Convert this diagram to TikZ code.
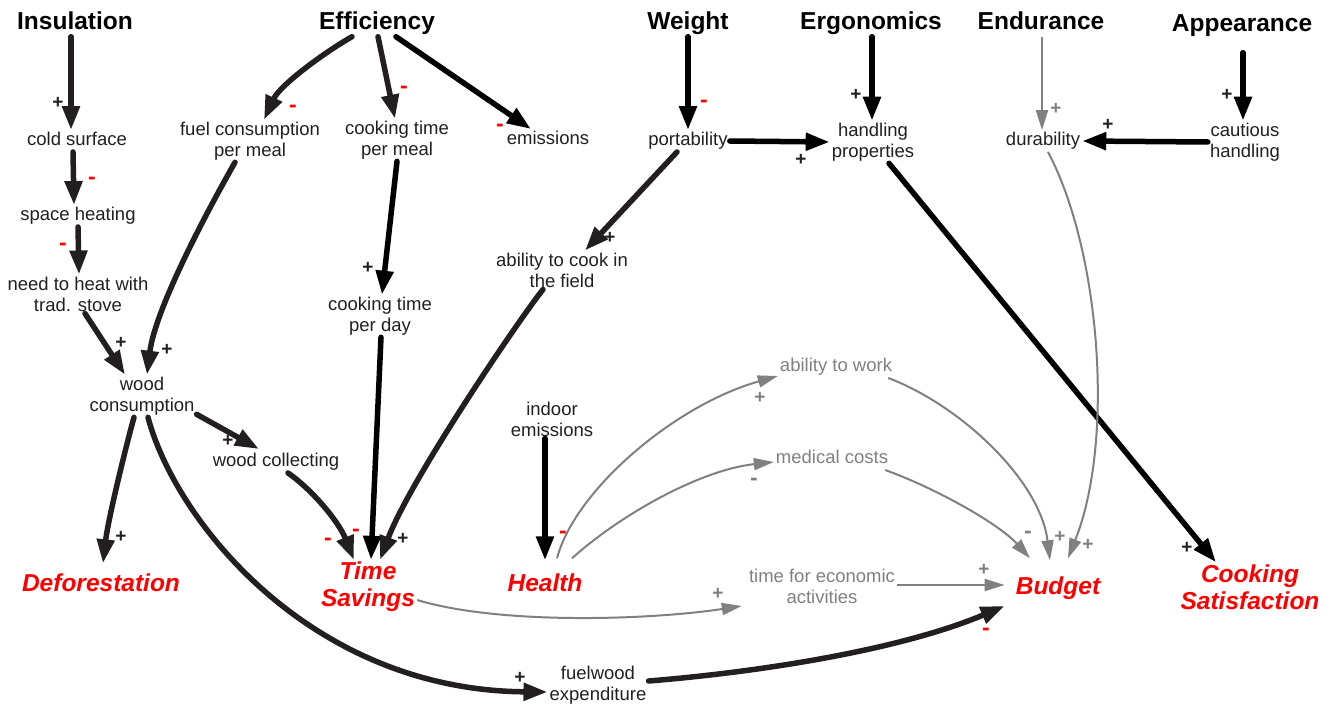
\documentclass[tikz,border=0pt]{standalone}
\usepackage{fontspec}
\setmainfont{Liberation Sans}
\usetikzlibrary{arrows.meta}
\definecolor{dk}{RGB}{35,31,32}
\definecolor{gr}{RGB}{128,128,128}
\definecolor{rd}{RGB}{255,0,0}
\begin{document}
\begin{tikzpicture}[x=1pt,y=-1pt,
 lab/.style={font=\fontsize{18.5}{21}\selectfont, align=center, inner sep=2pt, text=dk},
 one/.style={text height=13.5pt, text depth=4pt},
 glab/.style={lab, text=gr},
 head/.style={font=\fontsize{24.5}{28}\selectfont\bfseries, inner sep=2pt, text=black, text height=18pt, text depth=5pt},
 goal/.style={font=\fontsize{24.5}{27}\selectfont\bfseries\itshape, align=center, inner sep=2pt, text=rd},
 goal1/.style={goal, text height=18pt, text depth=5pt},
 hv/.style={draw=dk, line width=5.5pt, line cap=round, -{Triangle[length=24pt,width=17pt]}},
 hvk/.style={hv, draw=black},
 lite/.style={draw=gr, line width=2pt, -{Triangle[length=20pt,width=12pt]}},
 pl/.style={inner sep=0pt, font=\fontsize{19}{19}\selectfont\bfseries, text=dk},
 mi/.style={inner sep=0pt, font=\fontsize{23}{23}\selectfont\bfseries, text=rd},
]
\path[use as bounding box] (0,0) rectangle (1327,706);

% headings
\node[head] (ins) at (75,23) {Insulation};
\node[head] (eff) at (377,23) {Efficiency};
\node[head] (wt) at (688,23) {Weight};
\node[head] (ergo) at (871,23) {Ergonomics};
\node[head] (endu) at (1041,23) {Endurance};
\node[head] (app) at (1242,25) {Appearance};

% labels
\node[lab,one] (cold) at (77,141) {cold surface};
\node[lab] (fuel) at (250,141) {fuel consumption\\per meal};
\node[lab] (ctpm) at (397,140) {cooking time\\per meal};
\node[lab,one] (emis) at (548,140) {emissions};
\node[lab,one] (port) at (688,141) {portability};
\node[lab] (hand) at (873,142) {handling\\properties};
\node[lab,one] (dur) at (1043,141) {durability};
\node[lab] (caut) at (1245,142) {cautious\\handling};
\node[lab,one] (space) at (78,216) {space heating};
\node[lab] (need) at (78,294) {need to heat with\\trad. stove};
\node[lab] (cook) at (562,270) {ability to cook in\\the field};
\node[lab] (ctpd) at (380,316) {cooking time\\per day};
\node[lab] (wood) at (142,396) {wood\\consumption};
\node[lab,one] (coll) at (276,462) {wood collecting};
\node[lab] (ind) at (552,419) {indoor\\emissions};
\node[glab,one] (abw) at (836,367) {ability to work};
\node[glab,one] (med) at (832,459) {medical costs};
\node[glab] (te) at (822,586) {time for economic\\activities};
\node[lab] (fw) at (598,685) {fuelwood\\expenditure};

% goals
\node[goal1] (def) at (101,585) {Deforestation};
\node[goal] (ts) at (368,587) {Time\\Savings};
\node[goal1] (hea) at (545,585) {Health};
\node[goal1] (bud) at (1058,588) {Budget};
\node[goal] (cs) at (1250,587) {Cooking\\Satisfaction};

% connectors
\draw[hv] ([xshift=-4pt]ins.south) -- ([xshift=-6pt]cold.north);
\draw[hv] ([xshift=-4pt]cold.south) -- ([xshift=-4pt]space.north);
\draw[hv] (space.south) -- ([xshift=1pt]need.north);
\draw[hv] ([xshift=7pt]need.south) -- ([xshift=-17pt]wood.north);
\draw[hv] ([xshift=-15pt]fuel.south) .. controls (205,215) and (155,310) .. ([xshift=5pt]wood.north);
\draw[hv] ([xshift=-25pt]eff.south) .. controls (325,52) and (280,85) .. ([xshift=14pt]fuel.north);
\draw[hv] ([xshift=1pt]eff.south) -- ([xshift=-2pt]ctpm.north);
\draw[hvk] ([xshift=19pt]eff.south) -- ([xshift=-17pt]emis.north);
\draw[hvk] (ctpm.south) -- ([xshift=2pt]ctpd.north);
\draw[hvk] ([xshift=1pt]ctpd.south) -- ([xshift=3pt]ts.north);
\draw[hv] ([yshift=3pt]wood.south east) -- ([xshift=-17pt,yshift=2pt]coll.north);
\draw[hv] ([xshift=12pt]coll.south) .. controls (310,488) and (338,520) .. ([xshift=-14pt]ts.north);
\draw[hv] ([xshift=-19pt]cook.south) .. controls (520,318) and (410,480) .. ([xshift=12pt]ts.north);
\draw[hv] ([xshift=-8pt]wood.south) .. controls (125,450) and (108,520) .. ([xshift=2pt,yshift=8pt]def.north);
\draw[hv] ([xshift=6pt]wood.south) .. controls (175,520) and (310,690) .. ([yshift=-7pt]fw.west);
\draw[hv] ([yshift=4pt]fw.east) .. controls (760,672) and (900,650) .. ([xshift=-9pt,yshift=-18pt]bud.west);
\draw[hvk] (wt.south) -- (port.north);
\draw[hvk] (port.east) -- (hand.west);
\draw[hv] ([xshift=-11pt]port.south) -- ([xshift=23pt]cook.north);
\draw[hvk] ([xshift=1pt]ergo.south) -- ([xshift=-1pt]hand.north);
\draw[hvk, shorten <=14pt] ([xshift=1pt]app.south) -- ([xshift=-2pt]caut.north);
\draw[hvk] (caut.west) -- (dur.east);
\draw[lite] ([xshift=1pt]endu.south) -- ([xshift=-1pt]dur.north);
\draw[hvk] ([xshift=16pt]hand.south) -- ([xshift=-34pt]cs.north);
\draw[lite] ([xshift=5pt]dur.south) .. controls (1100,250) and (1115,440) .. ([xshift=10pt,yshift=16pt]bud.north);
\draw[lite] ([xshift=12pt,yshift=13pt]hea.north) .. controls (575,490) and (675,405) .. ([yshift=-9pt]abw.west);
\draw[lite] ([xshift=27pt,yshift=13pt]hea.north) .. controls (620,515) and (700,470) .. ([yshift=-3pt]med.west);
\draw[lite] ([xshift=-6pt,yshift=-11pt]abw.east) .. controls (960,405) and (1040,480) .. ([xshift=-8pt,yshift=14pt]bud.north);
\draw[lite] ([xshift=-5pt,yshift=-11pt]med.east) .. controls (940,490) and (1000,525) .. ([xshift=-28pt,yshift=16pt]bud.north);
\draw[lite] ([yshift=-13pt]ts.east) .. controls (500,625) and (650,620) .. ([xshift=-5pt,yshift=-20pt]te.west);
\draw[lite] ([yshift=1pt]te.east) -- ([xshift=-9pt,yshift=3pt]bud.west);
\draw[hvk] ([xshift=-7pt]ind.south) -- ([yshift=11pt]hea.north);

% signs
\node[pl] (s1) at (58,103) {+};
\node[mi] (s2) at (92,181) {-};
\node[mi] (s3) at (63,247) {-};
\node[pl] (s4) at (121,343) {+};
\node[pl] (s5) at (167,350) {+};
\node[mi] (s6) at (293,109) {-};
\node[mi] (s7) at (404,90) {-};
\node[mi] (s8) at (500,128) {-};
\node[pl] (s9) at (368,268) {+};
\node[mi] (s10) at (356,533) {-};
\node[pl] (s11) at (228,441) {+};
\node[mi] (s12) at (328,542) {-};
\node[pl] (s13) at (403,539) {+};
\node[pl] (s14) at (121,537) {+};
\node[pl] (s15) at (520,678) {+};
\node[mi] (s16) at (986,632) {-};
\node[mi] (s17) at (704,104) {-};
\node[pl] (s18) at (801,160) {+};
\node[pl] (s19) at (610,238) {+};
\node[pl] (s20) at (856,95) {+};
\node[pl] (s21) at (1227,95) {+};
\node[pl] (s22) at (1108,125) {+};
\node[pl,text=gr] (s23) at (1056,109) {+};
\node[pl] (s24) at (1187,548) {+};
\node[mi] (s25) at (563,535) {-};
\node[pl,text=gr] (s26) at (760,398) {+};
\node[mi,text=gr] (s27) at (754,482) {-};
\node[pl,text=gr] (s28) at (718,594) {+};
\node[pl,text=gr] (s29) at (984,570) {+};
\node[mi,text=gr] (s30) at (1028,535) {-};
\node[pl,text=gr] (s31) at (1060,537) {+};
\node[pl,text=gr] (s32) at (1088,545) {+};
\end{tikzpicture}
\end{document}
